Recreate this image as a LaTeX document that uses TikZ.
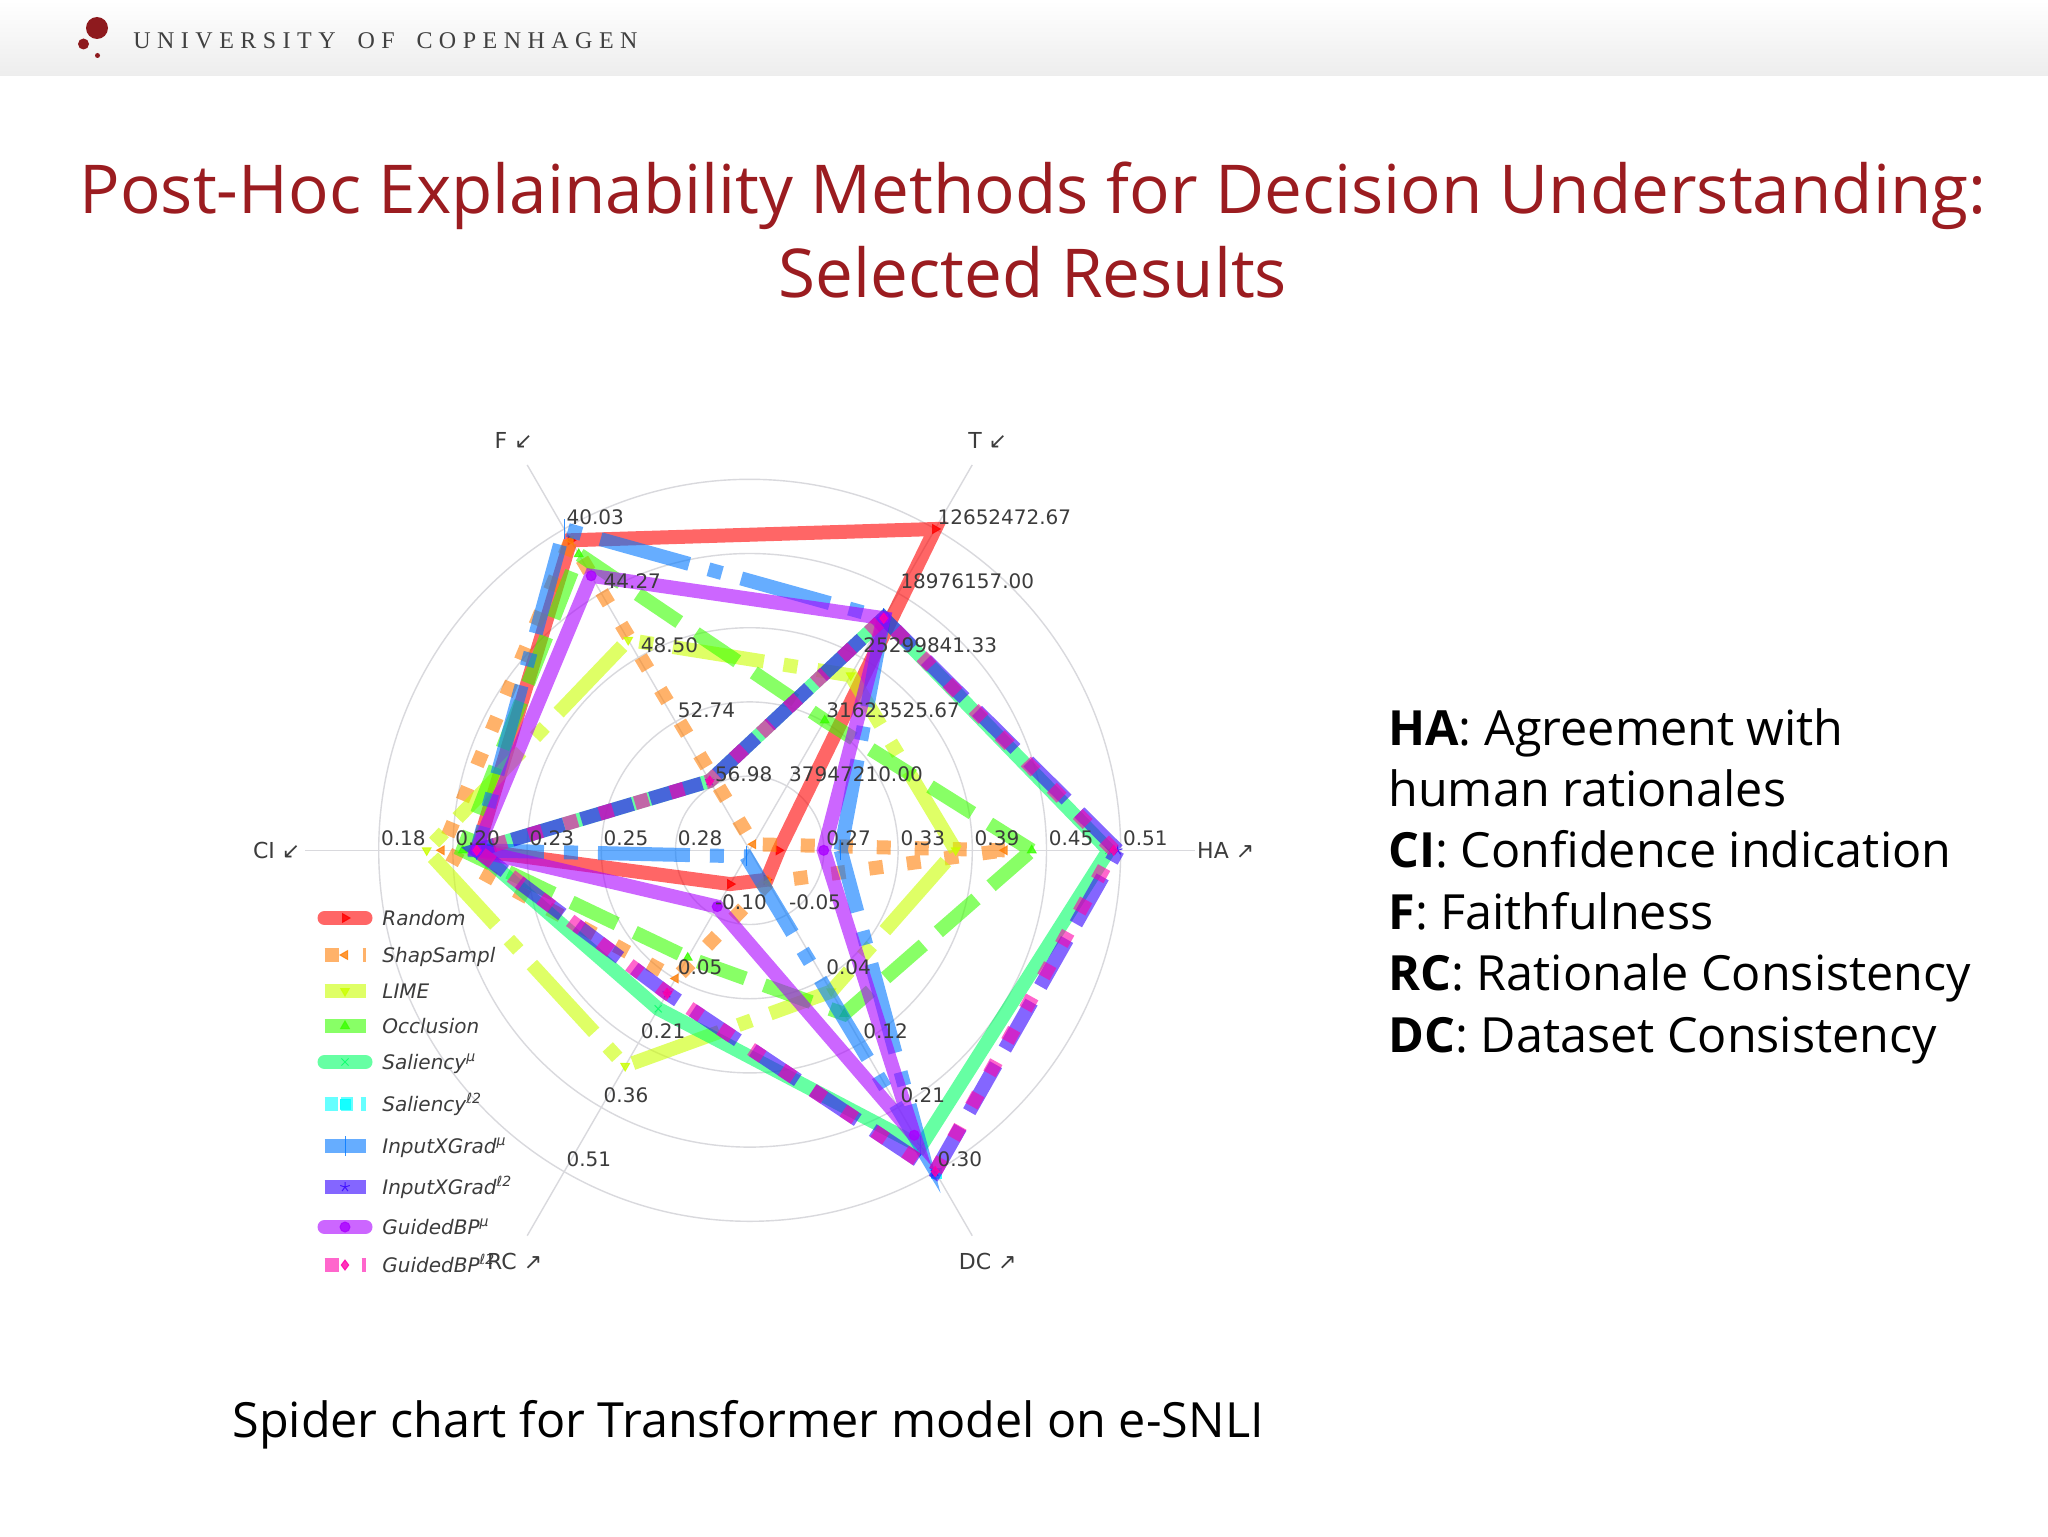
\documentclass[tikz,border=0pt]{standalone}
\usepackage{fontspec}
\setmainfont{Open Sans}
\newfontfamily\chartfont{DejaVu Sans}
\newfontfamily\crestfont[LetterSpace=27,WordSpace=1.75]{Liberation Serif}
\usetikzlibrary{plotmarks, positioning}

\definecolor{crest}{HTML}{8E1A1E}
\definecolor{titlered}{HTML}{9B1C20}
\definecolor{gridcol}{HTML}{D9D9DD}
\definecolor{inkcol}{HTML}{3C3C3C}
\definecolor{rndcol}{HTML}{FF0000}
\definecolor{shapcol}{HTML}{FF8008}
\definecolor{limecol}{HTML}{CBFF00}
\definecolor{occlcol}{HTML}{39FF00}
\definecolor{salmucol}{HTML}{00FF66}
\definecolor{saltwocol}{HTML}{00FFFF}
\definecolor{ixgmucol}{HTML}{0077FF}
\definecolor{ixgtwocol}{HTML}{3300FF}
\definecolor{gbpmucol}{HTML}{AA00FF}
\definecolor{gbptwocol}{HTML}{FF00AA}

\tikzset{
  spiderline/.style={line width=7pt, draw opacity=.6},
  spidermark/.style={only marks, mark size=2.5pt, opacity=.8, line width=.5pt},
  rndline/.style={spiderline, draw=rndcol, line cap=round},
  shapline/.style={spiderline, draw=shapcol, dash pattern=on 7pt off 12pt},
  limeline/.style={spiderline, draw=limecol, dash pattern=on 46pt off 10pt on 7pt off 10pt},
  occlline/.style={spiderline, draw=occlcol, dash pattern=on 25pt off 10pt},
  salmuline/.style={spiderline, draw=salmucol, line cap=round},
  saltwoline/.style={spiderline, draw=saltwocol, dash pattern=on 6.5pt off 1.5pt on 6pt off 4pt},
  ixgmuline/.style={spiderline, draw=ixgmucol, dash pattern=on 46pt off 10pt on 7pt off 10pt},
  ixgtwoline/.style={spiderline, draw=ixgtwocol, dash pattern=on 27pt off 9pt},
  gbpmuline/.style={spiderline, draw=gbpmucol, line cap=round},
  gbptwoline/.style={spiderline, draw=gbptwocol, dash pattern=on 7pt off 11.5pt},
  rndmark/.style={spidermark, color=rndcol, mark=triangle*, mark options={rotate=-90}},
  shapmark/.style={spidermark, color=shapcol, mark=triangle*, mark options={rotate=90}},
  limemark/.style={spidermark, color=limecol, mark=triangle*, mark options={rotate=180}},
  occlmark/.style={spidermark, color=occlcol, mark=triangle*},
  salmumark/.style={spidermark, color=salmucol, mark=x},
  saltwomark/.style={spidermark, color=saltwocol, mark=square*},
  ixgmumark/.style={spidermark, color=ixgmucol, mark=|, mark size=5pt},
  ixgtwomark/.style={spidermark, color=ixgtwocol, mark=star},
  gbpmumark/.style={spidermark, color=gbpmucol, mark=*},
  gbptwomark/.style={spidermark, color=gbptwocol, mark=diamond*},
  ticklabel/.style={anchor=west, inner sep=0pt, text=inkcol, font=\chartfont\fontsize{10}{12}\selectfont},
  axislabel/.style={inner sep=0pt, text=inkcol, font=\chartfont\fontsize{11}{12}\selectfont},
  legendlabel/.style={anchor=base west, inner sep=0pt, text=inkcol, font=\chartfont\itshape\fontsize{10}{12}\selectfont},
  slidetext/.style={inner sep=0pt, text=black, font=\fontsize{24.25}{30.7}\selectfont},
}

% radii on the axes HA, T, F, CI, RC, DC
\newcommand{\spider}[8]{%
  \draw[#1] (0:#3) -- (-60:#4) -- (-120:#5) -- (180:#6) -- (120:#7) -- (60:#8) -- cycle;
  \draw[#2] plot coordinates {(0:#3) (-60:#4) (-120:#5) (180:#6) (120:#7) (60:#8)};
}

\begin{document}
\begin{tikzpicture}[x=.5pt,y=-.5pt]
\useasboundingbox (0,0) rectangle (2048,1536);
\fill[white] (0,0) rectangle (2048,1536);

% header band
\shade[top color=white, bottom color=black!7] (0,0) rectangle (2048,76);
\fill[crest] (97,28) circle (11);
\fill[crest] (83.5,44) circle (5.5);
\fill[crest] (97.5,55.5) circle (2.5);
\node[anchor=west, inner sep=0pt, text=black!75, font=\crestfont\fontsize{12}{14}\selectfont] (crestname) at (133,41) {UNIVERSITY OF COPENHAGEN};

\node[inner sep=0pt, align=center, text=titlered, font=\fontsize{33.7}{41.8}\selectfont] (slidetitle) at (1033,230)
  {Post-Hoc Explainability Methods for Decision Understanding:\\Selected Results};

\begin{scope}[shift={(749.7,850.3)}]
  % rings and axes
  \foreach \r in {74.2,148.4,222.6,296.8,371} {
    \draw[gridcol, line width=.7pt] (0,0) circle (\r);
  }
  \foreach \a in {0,-60,-120,180,120,60} {
    \draw[gridcol, line width=.7pt] (0,0) -- (\a:445);
  }

  \spider{rndline}{rndmark}{29}{371}{358}{273}{39}{34}
  \spider{shapline}{shapmark}{255}{7}{358}{308}{148}{37}
  \spider{limeline}{limemark}{206}{202}{243}{323}{249}{163}
  \spider{occlline}{occlmark}{282}{150}{342}{287}{124}{189}
  \spider{salmuline}{salmumark}{359}{268}{80}{273}{183}{342}
  % the cyan series only shows at the DC tip
  \draw[saltwomark] plot coordinates {(60:373)};
  \spider{ixgmuline}{ixgmumark}{91}{268}{371}{273}{7}{342}
  \spider{ixgtwoline}{ixgtwomark}{368}{268}{80}{273}{165}{371}
  \spider{gbpmuline}{gbpmumark}{74}{268}{317}{273}{65}{329}
  \spider{gbptwoline}{gbptwomark}{364}{268}{80}{273}{165}{371}

  % values on the axes
  \foreach \a/\r/\t [count=\i] in {
    0/74.2/0.27, 0/148.4/0.33, 0/222.6/0.39, 0/296.8/0.45, 0/371/0.51,
    -60/74.2/37947210.00, -60/148.4/31623525.67, -60/222.6/25299841.33, -60/296.8/18976157.00, -60/371/12652472.67,
    -120/74.2/56.98, -120/148.4/52.74, -120/222.6/48.50, -120/296.8/44.27, -120/371/40.03,
    180/74.2/0.28, 180/148.4/0.25, 180/222.6/0.23, 180/296.8/0.20, 180/371/0.18,
    120/74.2/-0.10, 120/148.4/0.05, 120/222.6/0.21, 120/296.8/0.36, 120/371/0.51,
    60/74.2/-0.05, 60/148.4/0.04, 60/222.6/0.12, 60/296.8/0.21, 60/371/0.30} {
    \path (\a:\r) ++(2,-12) node[ticklabel] (tick\i) {\t};
  }

  \node[axislabel] (axisHA) at (476,0) {HA ↗};
  \node[axislabel] (axisT) at (238,-410) {T ↙};
  \node[axislabel] (axisF) at (-236,-410) {F ↙};
  \node[axislabel] (axisCI) at (-473,0) {CI ↙};
  \node[axislabel] (axisRC) at (-235,411) {RC ↗};
  \node[axislabel] (axisDC) at (238,411) {DC ↗};
\end{scope}

% legend
\foreach \y/\l/\m/\t [count=\i] in {
  918/rndline/rndmark/Random,
  955/shapline/shapmark/ShapSampl,
  991/limeline/limemark/LIME,
  1026/occlline/occlmark/Occlusion,
  1062/salmuline/salmumark/Saliency\textsuperscript{μ},
  1104/saltwoline/saltwomark/Saliency\textsuperscript{ℓ2},
  1146/ixgmuline/ixgmumark/InputXGrad\textsuperscript{μ},
  1187/ixgtwoline/ixgtwomark/InputXGrad\textsuperscript{ℓ2},
  1227/gbpmuline/gbpmumark/GuidedBP\textsuperscript{μ},
  1265/gbptwoline/gbptwomark/GuidedBP\textsuperscript{ℓ2}} {
  \draw[\l] (324.5,\y) -- (365.5,\y);
  \draw[\m] plot coordinates {(345,\y)};
  \path (382,\y) ++(0,7) node[legendlabel] (legend\i) {\t};
}

\node[slidetext, anchor=west, align=left] (glossary) at (1388,886)
  {\textbf{HA}: Agreement with\\human rationales\\\textbf{CI}: Confidence indication\\\textbf{F}: Faithfulness\\\textbf{RC}: Rationale Consistency\\\textbf{DC}: Dataset Consistency};
\node[slidetext, anchor=west] (caption) at (232,1425) {Spider chart for Transformer model on e-SNLI};
\end{tikzpicture}
\end{document}
